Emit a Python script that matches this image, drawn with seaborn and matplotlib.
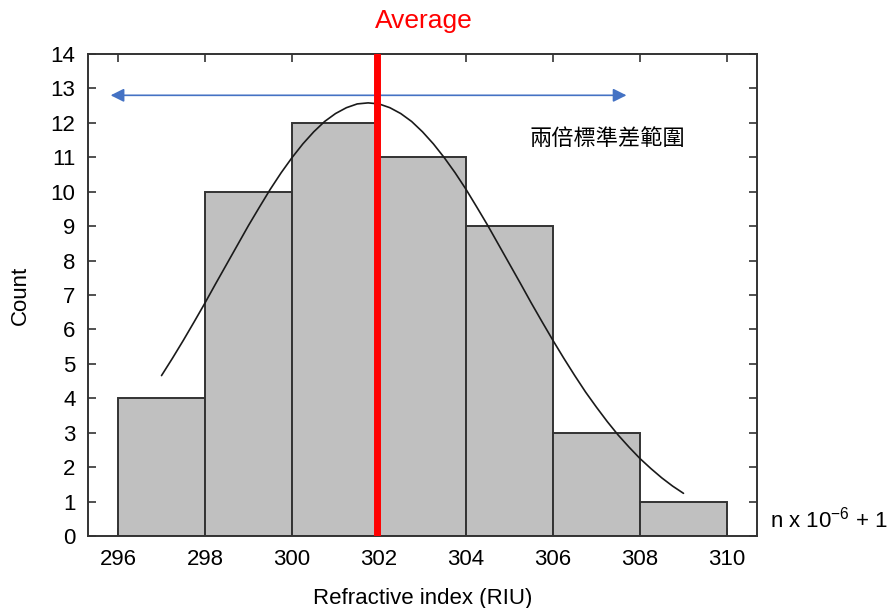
import matplotlib
matplotlib.use('Agg')
import matplotlib.pyplot as plt
import seaborn as sns

# === DATA ===
BIN_EDGES = [296, 298, 300, 302, 304, 306, 308, 310]
BIN_CENTERS = [297, 299, 301, 303, 305, 307, 309]
COUNTS = [4, 10, 12, 11, 9, 3, 1]
AVERAGE = 301.96

# fitted curve
CURVE_X = [297, 297.25, 297.5, 297.75, 298, 298.25, 298.5, 298.75, 299,
           299.25, 299.5, 299.75, 300, 300.25, 300.5, 300.75, 301, 301.25,
           301.5, 301.75, 302, 302.25, 302.5, 302.75, 303, 303.25, 303.5,
           303.75, 304, 304.25, 304.5, 304.75, 305, 305.25, 305.5, 305.75,
           306, 306.25, 306.5, 306.75, 307, 307.25, 307.5, 307.75, 308,
           308.25, 308.5, 308.75, 309]
CURVE_Y = [4.66, 5.16, 5.68, 6.22, 6.77, 7.34, 7.90, 8.46, 9.02,
           9.55, 10.07, 10.55, 10.99, 11.39, 11.74, 12.04, 12.27, 12.44,
           12.55, 12.58, 12.55, 12.44, 12.27, 12.04, 11.74, 11.39, 10.99,
           10.55, 10.07, 9.55, 9.02, 8.46, 7.90, 7.34, 6.77, 6.22,
           5.68, 5.16, 4.66, 4.18, 3.74, 3.32, 2.93, 2.58, 2.25,
           1.96, 1.69, 1.45, 1.24]

RANGE_X = [295.83, 307.69]
RANGE_Y = 12.8
X_TICKS = [296, 298, 300, 302, 304, 306, 308, 310]
Y_TICKS = list(range(0, 15))
# === END DATA ===

sns.set_style('ticks')
plt.rcParams['font.family'] = ['Liberation Sans', 'Noto Sans CJK TC', 'DejaVu Sans']
plt.rcParams['mathtext.fontset'] = 'custom'
plt.rcParams['mathtext.rm'] = 'Liberation Sans'
plt.rcParams['mathtext.it'] = 'Liberation Sans'
plt.rcParams['text.color'] = 'black'
plt.rcParams['axes.labelcolor'] = 'black'
plt.rcParams['xtick.labelcolor'] = 'black'
plt.rcParams['ytick.labelcolor'] = 'black'

fig = plt.figure(figsize=(8.89, 6.08), dpi=100)
ax = fig.add_axes([0.099, 0.1184, 0.7525, 0.7928])

sns.histplot(x=BIN_CENTERS, weights=COUNTS, bins=BIN_EDGES, ax=ax,
             color='#c0c0c0', edgecolor='#333333', linewidth=1.4, alpha=1)
sns.lineplot(x=CURVE_X, y=CURVE_Y, ax=ax, color='#1a1a1a', linewidth=1.2)

ax.axvline(AVERAGE, color='#ff0000', linewidth=5, zorder=5)
ax.text(AVERAGE - 0.05, 1.054, 'Average', color='#ff0000', fontsize=19,
        ha='left', va='baseline', transform=ax.get_xaxis_transform())

ax.annotate('', xy=(RANGE_X[0], RANGE_Y), xytext=(RANGE_X[1], RANGE_Y),
            arrowprops=dict(arrowstyle='<|-|>', color='#4472c4', lw=1.2,
                            mutation_scale=20, shrinkA=0, shrinkB=0))
ax.text(307.25, 11.56, '兩倍標準差範圍', fontsize=16, ha='center', va='center',
        family=['Noto Sans CJK TC', 'DejaVu Sans'])
ax.text(311.0, 0.48, 'n x 10$^{-6}$ + 1', fontsize=16, ha='left', va='center',
        clip_on=False)

ax.set_xlim(295.31, 310.69)
ax.set_ylim(0, 14)
ax.set_xticks(X_TICKS)
ax.set_yticks(Y_TICKS)
ax.tick_params(direction='in', length=6, width=1.2, labelsize=16,
               top=True, right=True, color='#333333', pad=9)
ax.tick_params(axis='y', labelright=False)
ax.tick_params(axis='x', labeltop=False)
for s in ax.spines.values():
    s.set_linewidth(1.4)
    s.set_color('#333333')
    s.set_visible(True)

ax.set_xlabel('Refractive index (RIU)', fontsize=16, labelpad=13)
ax.set_ylabel('Count', fontsize=16, labelpad=14)

fig.savefig('out.png', dpi=100)
